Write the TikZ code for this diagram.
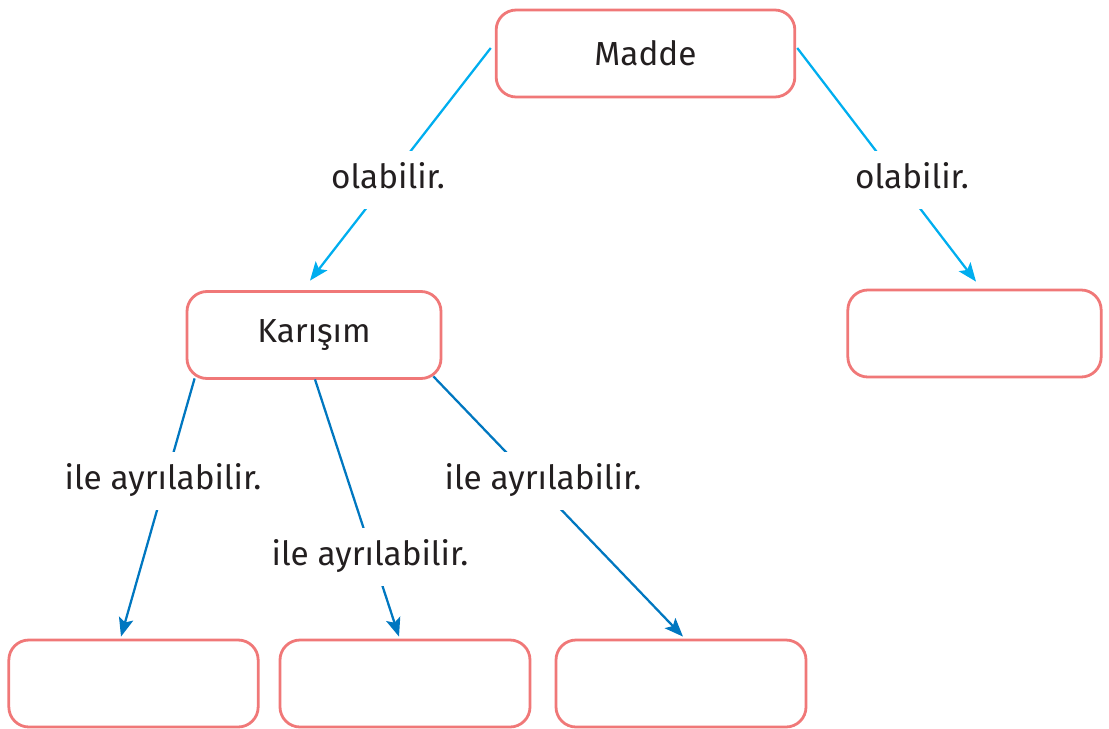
\documentclass[tikz,border=0pt]{standalone}
\usepackage{fontspec}
\setmainfont{Fira Sans}
\usetikzlibrary{arrows.meta,calc}
\definecolor{boxred}{HTML}{F07878}
\definecolor{lightblue}{HTML}{00AEEF}
\definecolor{darkblue}{HTML}{0077C0}
\definecolor{txt}{HTML}{231F20}
\tikzset{
  box/.style={draw=boxred, line width=2.1pt, rounded corners=15pt, fill=white,
    text=txt, font=\fontsize{25}{30}\selectfont, minimum height=65.25pt, inner sep=0pt},
  lab/.style={fill=white, text=txt, font=\fontsize{25}{30}\selectfont,
    text height=18pt, text depth=5pt, minimum height=44pt, inner xsep=3pt},
  topline/.style={draw=lightblue, line width=1.7pt, -{Stealth[length=14pt,width=11pt,inset=3pt]}},
  botline/.style={draw=darkblue, line width=1.7pt, -{Stealth[length=14pt,width=11pt,inset=3pt]}}
}
\begin{document}
\begin{tikzpicture}[x=0.75pt,y=-0.75pt]
\useasboundingbox (0,0) rectangle (1109,728);
\node[box, minimum width=224pt] (madde) at (645.5,53.5) {Madde};
\node[box, minimum width=190.5pt] (karisim) at (314,335) {Karışım};
\node[box, minimum width=190pt] (r) at (974.5,333.5) {};
\node[box, minimum width=187pt] (b1) at (133.5,683.5) {};
\node[box, minimum width=187.5pt] (b2) at (405,683.5) {};
\node[box, minimum width=187.5pt] (b3) at (681,683.5) {};

\draw[topline] ($(madde.west)+(-4,-5.5)$) coordinate (s1) -- ($(karisim.north)+(-4,-9.5)$) coordinate (t1);
\draw[topline] ($(madde.east)+(1,-5.5)$) coordinate (s2) -- ($(r.north)+(1.5,-7)$) coordinate (t2);
\draw[botline] ($(karisim.south west)+(9,-1.5)$) coordinate (s3) -- ($(b1.north)+(-12.5,-2)$) coordinate (t3);
\draw[botline] ($(karisim.south)+(1,-0.5)$) coordinate (s4) -- ($(b2.north)+(-6,-2)$) coordinate (t4);
\draw[botline] ($(karisim.south east)+(-9,-3.5)$) coordinate (s5) -- ($(b3.north)+(2,-2)$) coordinate (t5);

\node[lab] (l1) at (388,180) {olabilir.};
\node[lab] (l2) at (912,180) {olabilir.};
\node[lab] (l3) at (163,481) {ile ayrılabilir.};
\node[lab] (l4) at (370,557) {ile ayrılabilir.};
\node[lab] (l5) at (543,481) {ile ayrılabilir.};
\end{tikzpicture}
\end{document}
